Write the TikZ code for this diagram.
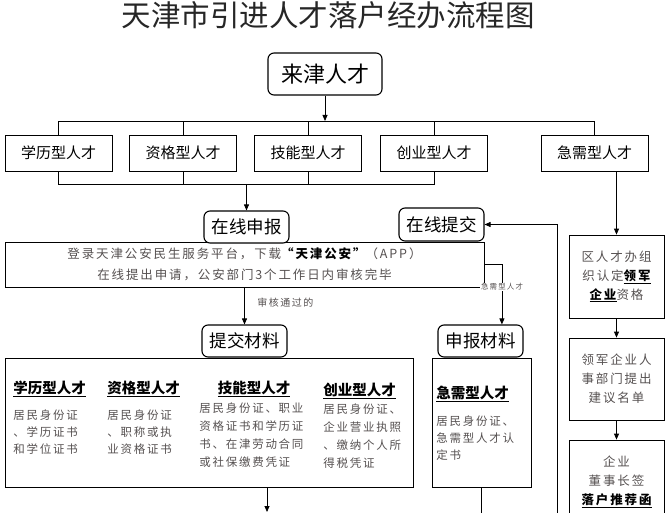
\documentclass[tikz,border=0pt]{standalone}
\usepackage{fontspec}
\setmainfont{Noto Sans CJK SC}
\newfontfamily\bodyf{Noto Sans CJK SC}[LetterSpace=15]
\usetikzlibrary{arrows.meta}
\definecolor{txtgray}{RGB}{85,80,80}

\begin{document}
\begin{tikzpicture}[x=1pt,y=-1pt,line width=0.8pt,>={Triangle[length=6pt,width=5pt]},
  rbox/.style={draw,fill=white,rounded corners=6pt,line width=1.1pt,minimum width=85pt,minimum height=32pt,font=\fontsize{17.5}{20}\selectfont},
  tbox/.style={draw,minimum width=107pt,minimum height=36pt,font=\fontsize{15}{18}\selectfont},
  gbox/.style={draw,minimum width=95pt,align=center,text=txtgray,font=\bodyf\fontsize{12.5}{19}\selectfont},
  head/.style={inner sep=0pt,font=\fontsize{14.5}{17}\selectfont\bfseries},
  body/.style={inner sep=0pt,align=left,text=txtgray,font=\bodyf\fontsize{11.5}{17}\selectfont},
  lbl/.style={inner sep=1pt,fill=white,text=txtgray}]
  \useasboundingbox (0,0) rectangle (669,513);
  \clip (0,0) rectangle (669,513);

  \node[inner sep=0pt,text=black!85,font=\fontsize{29.5}{31}\selectfont] (tt) at (328,15.5) {天津市引进人才落户经办流程图};

  \node[rbox,minimum width=114pt,minimum height=42pt,font=\fontsize{22}{24}\selectfont] (lj) at (325,74) {来津人才};

  \node[tbox] (xl) at (58.5,153) {学历型人才};
  \node[tbox] (zg) at (183,153) {资格型人才};
  \node[tbox] (jn) at (308,153) {技能型人才};
  \node[tbox] (cy) at (434,153) {创业型人才};
  \node[tbox] (jx) at (594.5,153) {急需型人才};

  \coordinate (bt) at (0,121);
  \coordinate (bb) at (0,184);
  \draw[->] (lj) -- (lj |- bt);
  \draw (xl.north) -- (xl.north |- bt) -- (jx.north |- bt) -- (jx.north);
  \foreach \n in {zg,jn,cy} \draw (\n.north) -- (\n.north |- bt);
  \draw (xl.south) -- (xl.south |- bb) -- (cy.south |- bb) -- (cy.south);
  \foreach \n in {zg,jn} \draw (\n.south) -- (\n.south |- bb);

  \node[draw,minimum width=479pt,minimum height=45pt,align=center,text=txtgray,font=\bodyf\fontsize{12.5}{21}\selectfont] (dl) at (244.5,264.5) {登录天津公安民生服务平台，下载{\color{black}\bfseries “天津公安”}（APP）\\在线提出申请，公安部门3个工作日内审核完毕};

  \node[rbox] (sb) at (246.5,227) {在线申报};
  \node[rbox,minimum height=33pt] (tj) at (441.5,224.5) {在线提交};
  \draw[->] (sb.north |- bb) -- (sb.north);

  \node[draw,minimum width=408pt,minimum height=129pt] (cl) at (209,422.5) {};
  \node[draw,minimum width=99pt,minimum height=129pt] (jr) at (481.5,422.5) {};

  \node[rbox] (tc) at (244.5,341) {提交材料};
  \node[rbox] (sm) at (480.5,341) {申报材料};

  \draw[->] (dl.south -| tc.north) -- (tc.north);
  \node[lbl,anchor=west,font=\bodyf\fontsize{10}{12}\selectfont] (sh) at (256,303) {审核通过的};

  \draw[->] (dl.east) -- ++(17.5,0) coordinate (k) -- (k |- sm.north);
  \node[lbl,font=\bodyf\fontsize{7.5}{9}\selectfont] (jl) at (502,287) {急需型人才};

  \coordinate (lp) at (557,513);
  \draw[->] (lp) |- (tj.east);

  \node[head,anchor=base west] (h1) at (13,393.5) {\underline{学历型人才}};
  \node[head,anchor=base west] (h2) at (107,393.5) {\underline{资格型人才}};
  \node[head,anchor=base] (h3) at (254,393.5) {\underline{技能型人才}};
  \node[head,anchor=base west] (h4) at (323,395) {\underline{创业型人才}};
  \node[head,anchor=base west] (h5) at (436,398) {\underline{急需型人才}};

  \node[body,anchor=north west] (t1) at (13,409) {居民身份证\\、学历证书\\和学位证书};
  \node[body,anchor=north west] (t2) at (107,409) {居民身份证\\、职称或执\\业资格证书};
  \node[body,anchor=north west,font=\bodyf\fontsize{11.5}{18}\selectfont] (t3) at (199,402.5) {居民身份证、职业\\资格证书和学历证\\书、在津劳动合同\\或社保缴费凭证};
  \node[body,anchor=north west,font=\bodyf\fontsize{11.5}{18}\selectfont] (t4) at (323,403.5) {居民身份证、\\企业营业执照\\、缴纳个人所\\得税凭证};
  \node[body,anchor=north west] (t5) at (436,415) {居民身份证、\\急需型人才认\\定书};

  \coordinate (c1) at (267,512);
  \draw[->] (cl.south -| c1) -- (c1);
  \draw (jr.south) -- (jr.south |- lp);

  \node[gbox,minimum height=83pt] (r1) at (616.5,276.5) {区人才办组\\织认定{\color{black}\bfseries\underline{领军}}\\{\color{black}\bfseries\underline{企业}}资格};
  \node[gbox,minimum height=82pt] (r2) at (616.5,379) {领军企业人\\事部门提出\\建议名单};
  \node[gbox,minimum height=84pt] (r3) at (616.5,482) {企业\\董事长签\\{\color{black}\bfseries\underline{落户推荐函}}};
  \draw[->] (jx.south -| r1.north) -- (r1.north);
  \draw[->] (r1) -- (r2);
  \draw[->] (r2) -- (r3);
\end{tikzpicture}
\end{document}
